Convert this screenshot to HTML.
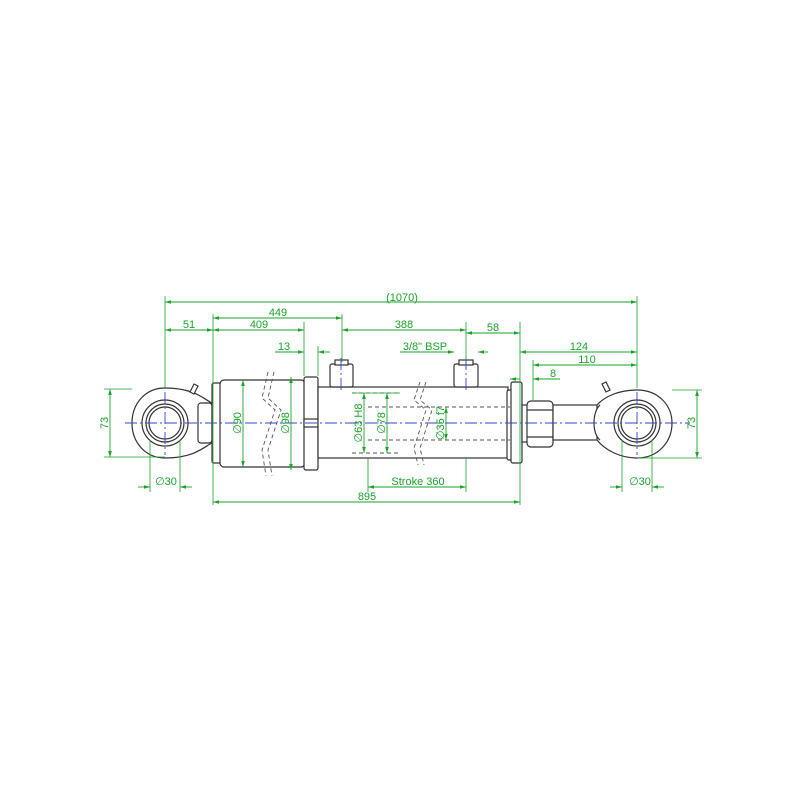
<!DOCTYPE html>
<html><head><meta charset="utf-8"><style>html,body{margin:0;padding:0;background:#fff}svg{display:block}</style></head><body>
<svg width="800" height="800" viewBox="0 0 800 800" xmlns="http://www.w3.org/2000/svg" font-family="Liberation Sans, sans-serif">
<defs>
<marker id="a" viewBox="0 0 10 6" refX="10" refY="3" markerWidth="8" markerHeight="4" orient="auto-start-reverse"><path d="M0,0L10,3L0,6z" fill="#1aa32a"/></marker>
</defs>
<rect width="800" height="800" fill="#fff"/>
<g fill="#fff" stroke="#333" stroke-width="1.2">
<path d="M165,388 C195,388 205,400 212,403 L212,443 C205,446 195,458 165,458 C145,458 132,442 132,423 C132,404 145,388 165,388z"/>
<rect x="198" y="403" width="14" height="40" rx="3"/>
<circle cx="165" cy="423" r="23"/><circle cx="165" cy="423" r="19"/><circle cx="165" cy="423" r="16"/>
<path d="M190,392 l4,-8 l4,2 l-4,8z"/>
<rect x="212" y="383" width="9" height="80" rx="2"/>
<rect x="220" y="380" width="85" height="87" rx="4"/>
<rect x="304" y="377" width="14" height="93" rx="2"/>
<rect x="304" y="419" width="14" height="8"/>
<rect x="318" y="387" width="190" height="71"/>
<rect x="330" y="364" width="23" height="23" rx="2"/>
<rect x="335" y="360" width="13" height="5"/>
<rect x="454" y="364" width="24" height="23" rx="2"/>
<rect x="459" y="360" width="14" height="5"/>
<rect x="507" y="390" width="13" height="70" rx="2"/>
<rect x="511" y="382" width="11" height="81" rx="2"/>
<rect x="522" y="405" width="6" height="37"/>
<rect x="527" y="401" width="26" height="46" rx="4"/>
<line x1="527" y1="410" x2="553" y2="410"/><line x1="527" y1="437" x2="553" y2="437"/>
<rect x="553" y="405" width="45" height="35"/>
<path d="M637,390 C658,390 672,405 672,423 C672,442 658,458 637,458 C620,458 605,450 597,440 L597,405 C605,396 620,390 637,390z"/>
<path d="M600,405 C592,412 592,434 600,440"/>
<circle cx="637" cy="423" r="23"/><circle cx="637" cy="423" r="19"/><circle cx="637" cy="423" r="16"/>
<path d="M606,392 l-4,-8 l4,-2 l4,8z"/>
</g>
<g stroke="#555" stroke-width="0.9" stroke-dasharray="4,3" fill="none">
<line x1="352" y1="393" x2="400" y2="393"/><line x1="352" y1="453" x2="400" y2="453"/>
<line x1="368" y1="407" x2="510" y2="407"/><line x1="368" y1="440" x2="510" y2="440"/>
<path d="M268,372 L262,398 L275,410 L262,450 L266,476"/><path d="M274,372 L268,398 L281,410 L268,450 L272,476"/>
<path d="M420,382 L414,400 L426,410 L414,448 L418,465"/><path d="M426,382 L420,400 L432,410 L420,448 L424,465"/>
</g>
<g stroke="#3344cc" stroke-width="0.9" stroke-dasharray="12,3,2,3" fill="none">
<line x1="125" y1="423" x2="690" y2="423"/>
<line x1="165" y1="392" x2="165" y2="455"/><line x1="637" y1="392" x2="637" y2="455"/>
<line x1="341" y1="358" x2="341" y2="390"/><line x1="466" y1="358" x2="466" y2="390"/>
</g>
<g stroke="#1aa32a" stroke-width="0.8" fill="none">
<line x1="165" y1="296" x2="165" y2="388"/><line x1="637" y1="296" x2="637" y2="388"/>
<line x1="213" y1="314" x2="213" y2="505"/><line x1="342" y1="314" x2="342" y2="362"/>
<line x1="304" y1="322" x2="304" y2="376"/><line x1="318" y1="346" x2="318" y2="376"/>
<line x1="466" y1="322" x2="466" y2="360"/><line x1="520" y1="322" x2="520" y2="505"/>
<line x1="533" y1="360" x2="533" y2="400"/>
<line x1="104" y1="389" x2="132" y2="389"/><line x1="104" y1="457" x2="165" y2="457"/>
<line x1="672" y1="390" x2="702" y2="390"/><line x1="637" y1="458" x2="702" y2="458"/>
<line x1="150" y1="440" x2="150" y2="492"/><line x1="180" y1="440" x2="180" y2="492"/>
<line x1="622" y1="440" x2="622" y2="492"/><line x1="652" y1="440" x2="652" y2="492"/>
<line x1="368" y1="458" x2="368" y2="492"/><line x1="466" y1="458" x2="466" y2="492"/>
<line x1="352" y1="393" x2="400" y2="393"/>
</g>
<g stroke="#1aa32a" stroke-width="0.9" fill="none" marker-start="url(#a)" marker-end="url(#a)">
<line x1="165" y1="302" x2="637" y2="302"/>
<line x1="213" y1="318" x2="342" y2="318"/>
<line x1="165" y1="330" x2="213" y2="330"/>
<line x1="213" y1="330" x2="304" y2="330"/>
<line x1="342" y1="330" x2="466" y2="330"/>
<line x1="466" y1="333" x2="520" y2="333"/>
<line x1="520" y1="352" x2="637" y2="352"/>
<line x1="533" y1="365" x2="637" y2="365"/>
<line x1="110" y1="389" x2="110" y2="457"/>
<line x1="697" y1="390" x2="697" y2="458"/>
<line x1="243" y1="380" x2="243" y2="467"/>
<line x1="291" y1="377" x2="291" y2="470"/>
<line x1="364" y1="393" x2="364" y2="453"/>
<line x1="387" y1="393" x2="387" y2="453"/>
<line x1="446" y1="407" x2="446" y2="440"/>
<line x1="368" y1="487" x2="466" y2="487"/>
<line x1="213" y1="502" x2="520" y2="502"/>
</g>
<g stroke="#1aa32a" stroke-width="0.9" fill="none">
<line x1="275" y1="352" x2="304" y2="352" marker-end="url(#a)"/><line x1="318" y1="352" x2="330" y2="352" marker-start="url(#a)"/>
<line x1="400" y1="352" x2="454" y2="352" marker-end="url(#a)"/><line x1="478" y1="352" x2="488" y2="352" marker-start="url(#a)"/>
<line x1="510" y1="379" x2="520" y2="379" marker-start="url(#a)"/><line x1="533" y1="379" x2="560" y2="379" marker-start="url(#a)"/>
<line x1="138" y1="487" x2="150" y2="487" marker-end="url(#a)"/><line x1="180" y1="487" x2="192" y2="487" marker-start="url(#a)"/>
<line x1="610" y1="487" x2="622" y2="487" marker-end="url(#a)"/><line x1="652" y1="487" x2="664" y2="487" marker-start="url(#a)"/>
</g>
<g fill="#1aa32a" font-size="11" text-anchor="middle">
<text x="402" y="301">(1070)</text>
<text x="278" y="316">449</text>
<text x="189" y="328">51</text>
<text x="259" y="328">409</text>
<text x="404" y="328">388</text>
<text x="493" y="331">58</text>
<text x="284" y="350">13</text>
<text x="425" y="350">3/8" BSP</text>
<text x="579" y="350">124</text>
<text x="587" y="363">110</text>
<text x="553" y="377">8</text>
<text x="166" y="485">∅30</text>
<text x="640" y="485">∅30</text>
<text x="418" y="485">Stroke 360</text>
<text x="367" y="500">895</text>
<text transform="translate(108,423) rotate(-90)">73</text>
<text transform="translate(695,423) rotate(-90)">73</text>
<text transform="translate(241,423) rotate(-90)">∅90</text>
<text transform="translate(289,423) rotate(-90)">∅98</text>
<text transform="translate(362,423) rotate(-90)">∅63 H8</text>
<text transform="translate(385,423) rotate(-90)">∅78</text>
<text transform="translate(444,423) rotate(-90)">∅35 f7</text>
</g>
</svg>
</body></html>
